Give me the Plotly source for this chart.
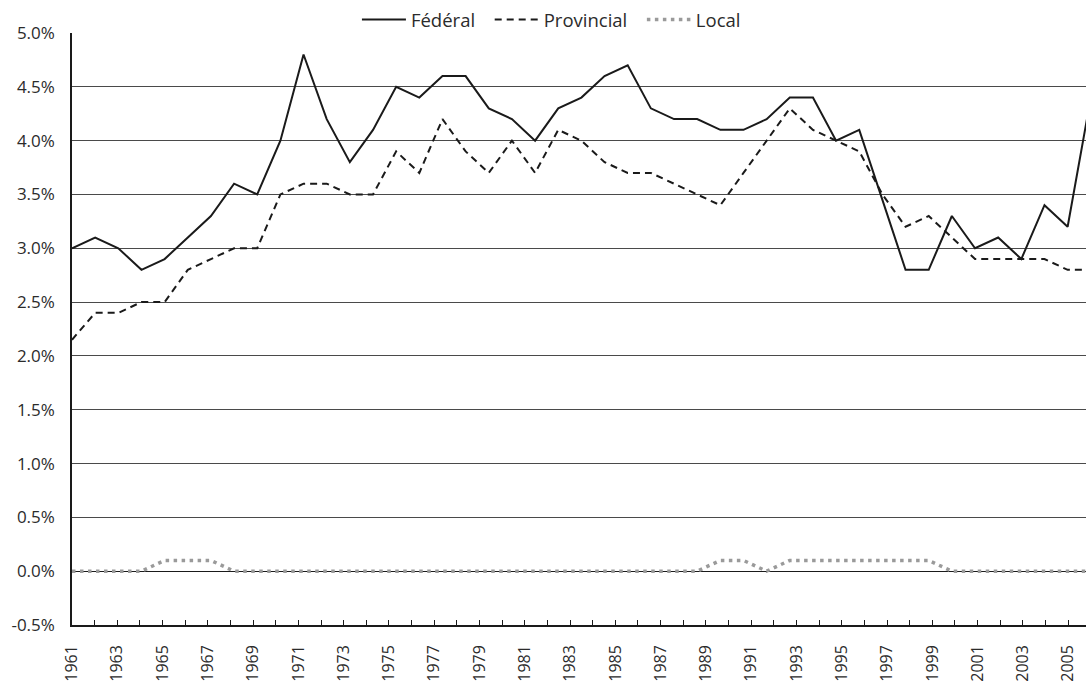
import plotly.graph_objects as go

# Category labels of the visible axis (one tick per year, label every other year)
tick_years = list(range(1961, 2007))
tick_labels = [str(y) if (y - 1961) % 2 == 0 else "" for y in tick_years]

# Series (one value per year, % )
data_years = list(range(1961, 2006))
federal = [3.0, 3.1, 3.0, 2.8, 2.9, 3.1, 3.3, 3.6, 3.5, 4.0,
           4.8, 4.2, 3.8, 4.1, 4.5, 4.4, 4.6, 4.6, 4.3, 4.2,
           4.0, 4.3, 4.4, 4.6, 4.7, 4.3, 4.2, 4.2, 4.1, 4.1,
           4.2, 4.4, 4.4, 4.0, 4.1, 3.45, 2.8, 2.8, 3.3, 3.0,
           3.1, 2.9, 3.4, 3.2, 4.4]
provincial = [2.15, 2.4, 2.4, 2.5, 2.5, 2.8, 2.9, 3.0, 3.0, 3.5,
              3.6, 3.6, 3.5, 3.5, 3.9, 3.7, 4.2, 3.9, 3.7, 4.0,
              3.7, 4.1, 4.0, 3.8, 3.7, 3.7, 3.6, 3.5, 3.4, 3.7,
              4.0, 4.3, 4.1, 4.0, 3.9, 3.5, 3.2, 3.3, 3.1, 2.9,
              2.9, 2.9, 2.9, 2.8, 2.8]
local = [0, 0, 0, 0, 0.1, 0.1, 0.1, 0, 0, 0,
         0, 0, 0, 0, 0, 0, 0, 0, 0, 0,
         0, 0, 0, 0, 0, 0, 0, 0, 0.1, 0.1,
         0, 0.1, 0.1, 0.1, 0.1, 0.1, 0.1, 0.1, 0, 0,
         0, 0, 0, 0, 0]

y_ticks = [-0.5, 0.0, 0.5, 1.0, 1.5, 2.0, 2.5, 3.0, 3.5, 4.0, 4.5, 5.0]

# The original picture is cropped slightly on the right
VISIBLE = 0.9953

FONT = "Open Sans"
TXT = "#2b2b2b"
PAD = "\u00a0\u00a0"

fig = go.Figure()
# carrier trace for the category (tick) axis, draws nothing
fig.add_trace(go.Scatter(x=tick_years, y=[None] * len(tick_years), mode="lines",
                         showlegend=False, hoverinfo="skip"))
fig.add_trace(go.Scatter(x=data_years, y=federal, name="Fédéral" + PAD, mode="lines",
                         line=dict(color="#1a1a1a", width=2), xaxis="x2"))
fig.add_trace(go.Scatter(x=data_years, y=provincial, name="Provincial" + PAD, mode="lines",
                         line=dict(color="#1a1a1a", width=2, dash="7px,5px"), xaxis="x2"))
fig.add_trace(go.Scatter(x=data_years, y=local, name="Local", mode="lines",
                         line=dict(color="#9a9a9a", width=3.5, dash="3.5px,4.5px"), xaxis="x2"))

fig.update_layout(
    width=1086, height=685,
    margin=dict(l=72, r=0, t=33, b=60, autoexpand=False),
    paper_bgcolor="white", plot_bgcolor="white",
    font=dict(family=FONT, color=TXT, size=15),
    showlegend=True,
    legend=dict(orientation="h", x=0.281, xanchor="left", y=1.022, yanchor="middle",
                font=dict(size=18.5, color=TXT, family=FONT), itemwidth=44,
                bgcolor="rgba(0,0,0,0)", traceorder="normal"),
    xaxis=dict(range=[tick_years[0], tick_years[0] + (tick_years[-1] - tick_years[0]) * VISIBLE],
               tickvals=tick_years, ticktext=tick_labels, tickangle=-90,
               ticks="inside", ticklen=5, tickcolor="#1a1a1a", tickwidth=1,
               showline=True, linecolor="#1a1a1a", linewidth=1.5,
               showgrid=False, zeroline=False, ticklabelstandoff=12, automargin=False,
               tickfont=dict(size=16, color=TXT, family=FONT)),
    xaxis2=dict(overlaying="x", range=[data_years[0], data_years[0] + (data_years[-1] - data_years[0]) * VISIBLE],
                visible=False, showgrid=False, zeroline=False),
    yaxis=dict(range=[-0.5, 5.0], tickvals=y_ticks,
               ticktext=[f"{v:.1f}%" for v in y_ticks],
               showgrid=True, gridcolor="#4a4a4a", gridwidth=1,
               zeroline=True, zerolinecolor="#1a1a1a", zerolinewidth=1,
               showline=True, linecolor="#1a1a1a", linewidth=1.5,
               ticks="", ticklabelstandoff=12, automargin=False,
               tickfont=dict(size=17, color=TXT, family=FONT)),
)

# remove the default 8px page margin so the figure fills the window exactly
fig.write_html("out.html", config={"displayModeBar": False},
               post_script="document.body.style.margin='0';document.body.style.overflow='hidden';")
